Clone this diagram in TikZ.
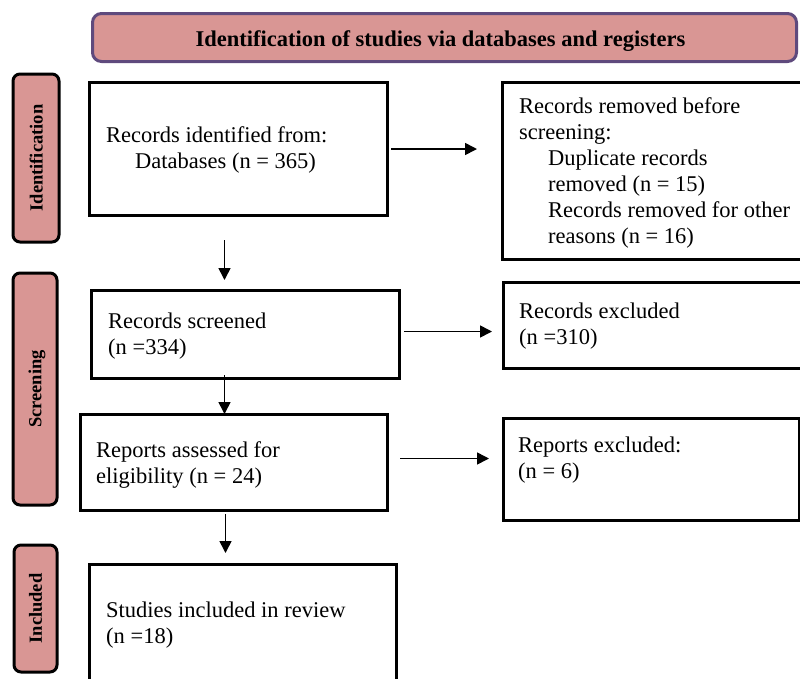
\documentclass[tikz,border=0pt]{standalone}
\usepackage{fontspec}
\setmainfont{Liberation Serif}
\usetikzlibrary{arrows.meta,calc}
\definecolor{pinkfill}{HTML}{D99694}
\definecolor{purpleedge}{HTML}{5F4A7D}
\begin{document}
\begin{tikzpicture}[x=1pt,y=-1pt,
  box/.style={draw=black, line width=3pt, fill=white, inner sep=0pt, anchor=north west},
  side/.style={draw=black, line width=3pt, fill=pinkfill, rounded corners=7pt, inner sep=0pt, rotate=90, text depth=0pt, font=\bfseries\fontsize{18.5}{20}\selectfont},
  head/.style={draw=purpleedge, line width=3pt, fill=pinkfill, rounded corners=9pt, inner sep=0pt, anchor=north west},
  txt/.style={inner sep=0pt, anchor=base west, align=left, font=\fontsize{22.5}{26}\selectfont},
  arr/.style={-{Triangle[length=12pt,width=12pt]}, line width=1.6pt}
]
\useasboundingbox (0,0) rectangle (800,678);
\clip (0,0) rectangle (800,678);

% header
\node[head, minimum width=704pt, minimum height=48pt] (hdr) at (91,12) {};
\node[inner sep=0pt, anchor=base, font=\bfseries\fontsize{22.5}{26}\selectfont] (hdrt) at (440.5,46) {Identification of studies via databases and registers};

% side labels
\node[side, minimum width=168pt, minimum height=46pt] (s1) at (36,158) {Identification};
\node[side, minimum width=232pt, minimum height=44pt] (s2) at (35,389) {Screening};
\node[side, minimum width=127pt, minimum height=43pt] (s3) at (35.5,608.5) {Included};

% boxes
\node[box, minimum width=298pt, minimum height=133pt] (b1) at (88,81) {};
\node[box, minimum width=320pt, minimum height=177pt] (b2) at (501,81) {};
\node[box, minimum width=308pt, minimum height=88pt] (b3) at (90,289) {};
\node[box, minimum width=320pt, minimum height=86pt] (b4) at (502,281) {};
\node[box, minimum width=307pt, minimum height=96pt] (b5) at (79,413) {};
\node[box, minimum width=296pt, minimum height=102pt] (b6) at (502,417) {};
\node[box, minimum width=307pt, minimum height=150pt] (b7) at (88,563) {};

% texts (anchor = baseline of the last line)
\node[txt] (t1) at (106,168) {Records identified from:\\\hspace*{29pt}Databases (n = 365)};
\node[txt] (t2) at (519,243) {Records removed before\\screening:\\\hspace*{29pt}Duplicate records\\\hspace*{29pt}removed (n = 15)\\\hspace*{29pt}Records removed for other\\\hspace*{29pt}reasons (n = 16)};
\node[txt] (t3) at (108,354) {Records screened\\(n =334)};
\node[txt] (t4) at (519,344) {Records excluded\\(n =310)};
\node[txt] (t5) at (96,483) {Reports assessed for\\eligibility (n = 24)};
\node[txt] (t6) at (518,478) {Reports excluded:\\(n = 6)};
\node[txt] (t7) at (106,643) {Studies included in review\\(n =18)};

% connectors
\coordinate (a1s) at ($(b1.east)+(2,0)$);
\coordinate (a1e) at ($(b2.west)+(-24,0)$);
\draw[arr] (a1s) -- (a1s -| a1e);

\coordinate (a2s) at ($(b1.south)+(-14,23)$);
\coordinate (a2e) at ($(b3.north)+(-21,-9)$);
\draw[arr] (a2s) -- (a2e);

\coordinate (a3s) at ($(b3.east)+(3,-3)$);
\coordinate (a3e) at ($(b4.west)+(-10,0)$);
\draw[arr] (a3s) -- (a3s -| a3e);

\coordinate (a4s) at ($(b3.south)+(-21,-5)$);
\coordinate (a4e) at ($(b5.north)+(-9.5,1)$);
\draw[arr] (a4s) -- (a4e);

\coordinate (a5s) at ($(b5.east)+(11,-4)$);
\coordinate (a5e) at ($(b6.west)+(-13,0)$);
\draw[arr] (a5s) -- (a5s -| a5e);

\coordinate (a6s) at ($(b5.south)+(-8.5,2)$);
\coordinate (a6e) at ($(b7.north)+(-17.5,-10)$);
\draw[arr] (a6s) -- (a6e);
\end{tikzpicture}
\end{document}
